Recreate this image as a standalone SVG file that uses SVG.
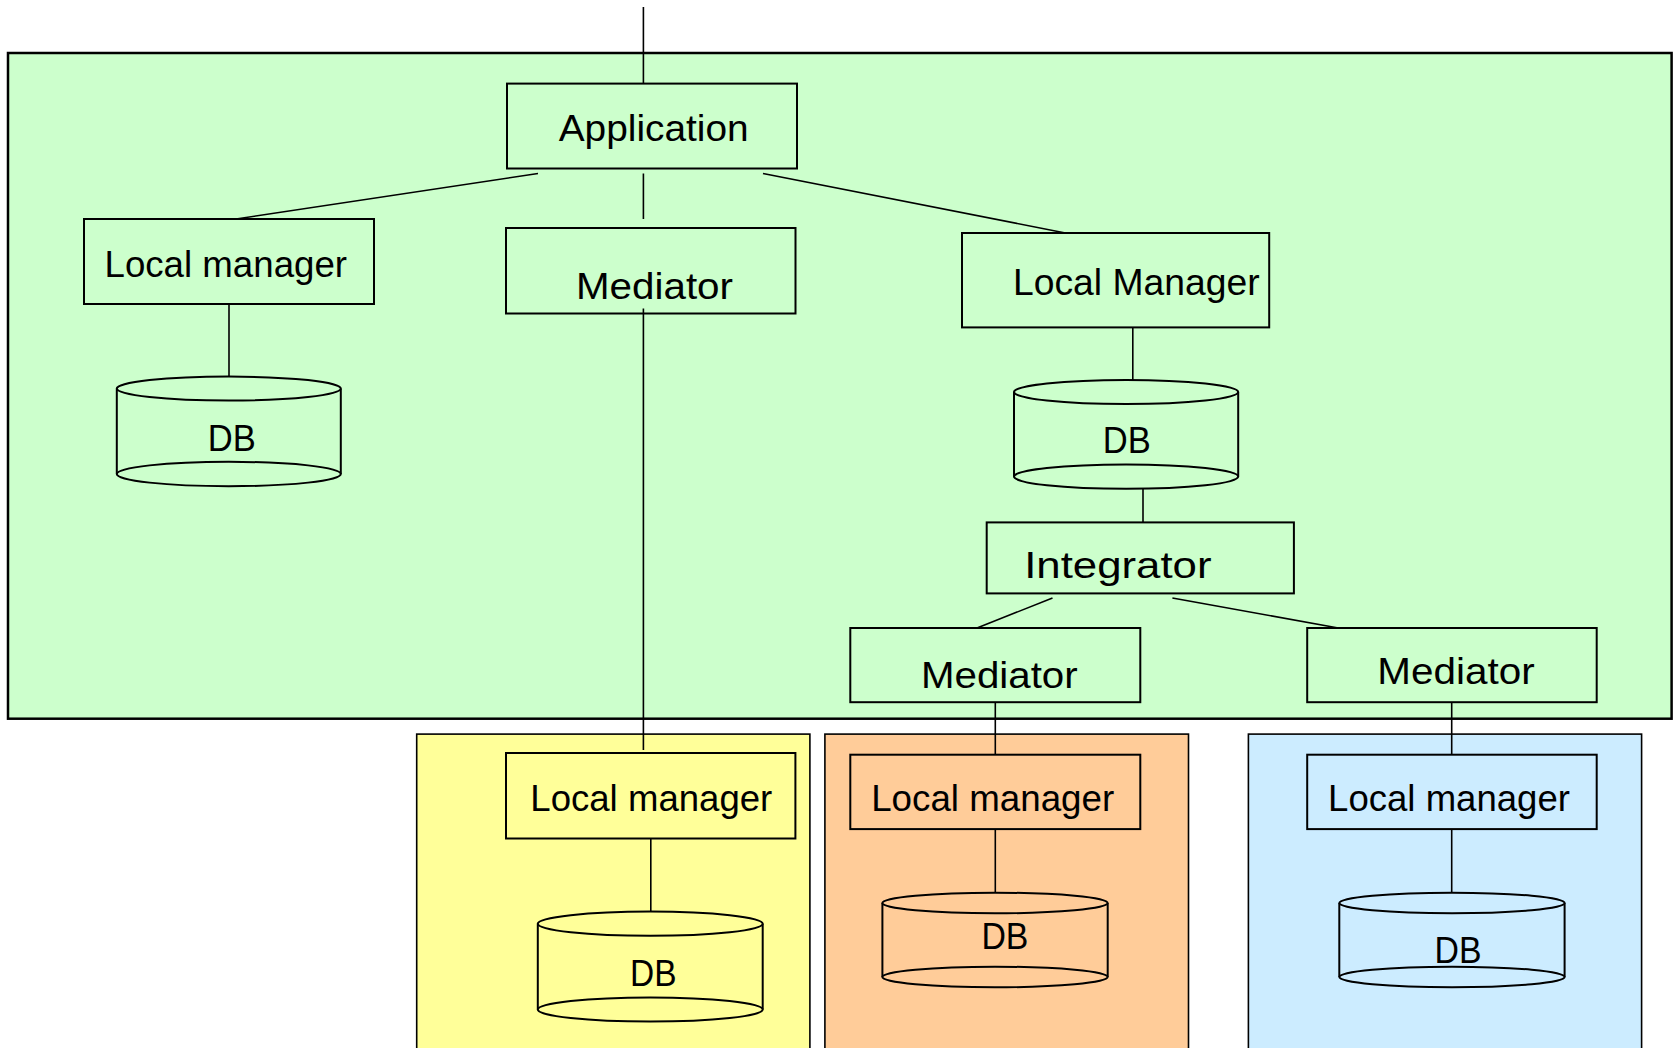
<svg xmlns="http://www.w3.org/2000/svg" width="1677" height="1048" viewBox="0 0 1677 1048">
<style>
.cont{stroke:#000;stroke-width:2.5}
.box{stroke:#000;stroke-width:2}
.cyl{stroke:#000;stroke-width:2}
.g{fill:#CCFFCC}.y{fill:#FFFF99}.o{fill:#FFCC99}.b{fill:#CCECFF}
.t{font-family:"Liberation Sans",Arial,sans-serif;font-size:37px;fill:#000}
.c line{stroke:#000;stroke-width:1.6}
</style>
<rect width="1677" height="1048" fill="#fff"/>
<g id="containers">
<rect class="cont g" x="8" y="53" width="1663.6" height="665.7"/>
<rect class="cont y" x="416.7" y="734.1" width="393.2" height="330" style="stroke-width:1.6"/>
<rect class="cont o" x="824.9" y="734.1" width="363.6" height="330" style="stroke-width:1.6"/>
<rect class="cont b" x="1248.4" y="734.1" width="393.2" height="330" style="stroke-width:1.6"/>
</g>
<g id="application"><rect class="box g" x="507" y="83.6" width="290" height="84.9"/><text class="t" x="558.7" y="141" textLength="190" lengthAdjust="spacingAndGlyphs">Application</text></g>
<g id="lm1"><rect class="box g" x="84" y="219" width="290" height="85"/><text class="t" x="104.5" y="277" textLength="242.5" lengthAdjust="spacingAndGlyphs">Local manager</text></g>
<g id="med1"><rect class="box g" x="506" y="228" width="289.5" height="85.5"/><text class="t" x="576" y="298.5" textLength="157" lengthAdjust="spacingAndGlyphs">Mediator</text></g>
<g id="lm2"><rect class="box g" x="962" y="233" width="307.2" height="94.4"/><text class="t" x="1013" y="295.2" textLength="246.6" lengthAdjust="spacingAndGlyphs">Local Manager</text></g>
<g id="db1"><rect class="g" x="116.8" y="388.6" width="224" height="85.4"/><line x1="116.8" y1="388.6" x2="116.8" y2="474" class="cyl"/><line x1="340.8" y1="388.6" x2="340.8" y2="474" class="cyl"/><ellipse class="cyl g" cx="228.8" cy="474" rx="112" ry="12.2"/><ellipse class="cyl g" cx="228.8" cy="388.6" rx="112" ry="12"/><text class="t" x="207.8" y="451" textLength="48" lengthAdjust="spacingAndGlyphs">DB</text></g>
<g id="db2"><rect class="g" x="1014" y="392" width="224.2" height="84.6"/><line x1="1014" y1="392" x2="1014" y2="476.6" class="cyl"/><line x1="1238.2" y1="392" x2="1238.2" y2="476.6" class="cyl"/><ellipse class="cyl g" cx="1126.1" cy="476.6" rx="112.1" ry="12.2"/><ellipse class="cyl g" cx="1126.1" cy="392" rx="112.1" ry="12.1"/><text class="t" x="1102.8" y="452.7" textLength="48" lengthAdjust="spacingAndGlyphs">DB</text></g>
<g id="integrator"><rect class="box g" x="986.7" y="522.4" width="307.2" height="71"/><text class="t" x="1024.2" y="578" textLength="187.3" lengthAdjust="spacingAndGlyphs">Integrator</text></g>
<g id="med2"><rect class="box g" x="850.3" y="628" width="290" height="74.2"/><text class="t" x="920.9" y="688.4" textLength="156.8" lengthAdjust="spacingAndGlyphs">Mediator</text></g>
<g id="med3"><rect class="box g" x="1307.2" y="628" width="289.5" height="74.2"/><text class="t" x="1377.3" y="684.3" textLength="157.3" lengthAdjust="spacingAndGlyphs">Mediator</text></g>
<g id="lm3"><rect class="box y" x="506" y="753" width="289.4" height="85.5"/><text class="t" x="530.3" y="811.2" textLength="242" lengthAdjust="spacingAndGlyphs">Local manager</text></g>
<g id="lm4"><rect class="box o" x="850.3" y="754.7" width="290" height="74.4"/><text class="t" x="871.2" y="811.2" textLength="243" lengthAdjust="spacingAndGlyphs">Local manager</text></g>
<g id="lm5"><rect class="box b" x="1307.2" y="754.7" width="289.5" height="74.4"/><text class="t" x="1328.1" y="811" textLength="241.8" lengthAdjust="spacingAndGlyphs">Local manager</text></g>
<g id="db3"><rect class="y" x="537.8" y="923.7" width="224.9" height="85.8"/><line x1="537.8" y1="923.7" x2="537.8" y2="1009.5" class="cyl"/><line x1="762.7" y1="923.7" x2="762.7" y2="1009.5" class="cyl"/><ellipse class="cyl y" cx="650.25" cy="1009.5" rx="112.45" ry="12.1"/><ellipse class="cyl y" cx="650.25" cy="923.7" rx="112.45" ry="12.1"/><text class="t" x="630" y="986.3" textLength="46.5" lengthAdjust="spacingAndGlyphs">DB</text></g>
<g id="db4"><rect class="o" x="882.4" y="903" width="225.3" height="74"/><line x1="882.4" y1="903" x2="882.4" y2="977" class="cyl"/><line x1="1107.7" y1="903" x2="1107.7" y2="977" class="cyl"/><ellipse class="cyl o" cx="995" cy="977" rx="112.65" ry="10.3"/><ellipse class="cyl o" cx="995" cy="903" rx="112.65" ry="10.3"/><text class="t" x="981.4" y="949.3" textLength="47" lengthAdjust="spacingAndGlyphs">DB</text></g>
<g id="db5"><rect class="b" x="1339.3" y="903" width="225.3" height="74"/><line x1="1339.3" y1="903" x2="1339.3" y2="977" class="cyl"/><line x1="1564.6" y1="903" x2="1564.6" y2="977" class="cyl"/><ellipse class="cyl b" cx="1452" cy="977" rx="112.65" ry="10.3"/><ellipse class="cyl b" cx="1452" cy="903" rx="112.65" ry="10.3"/><text class="t" x="1434.6" y="962.8" textLength="47" lengthAdjust="spacingAndGlyphs">DB</text></g>
<g id="connectors" class="c">
<line x1="643.4" y1="7" x2="643.4" y2="83.6"/>
<line x1="538" y1="173.5" x2="236" y2="219"/>
<line x1="643.4" y1="173.5" x2="643.4" y2="219"/>
<line x1="763" y1="173.5" x2="1065.4" y2="233"/>
<line x1="229" y1="304" x2="229" y2="376.6"/>
<line x1="643.4" y1="308.5" x2="643.4" y2="750"/>
<line x1="1132.8" y1="327.4" x2="1132.8" y2="380"/>
<line x1="1143" y1="488.8" x2="1143" y2="522.4"/>
<line x1="1052.5" y1="598" x2="977" y2="628"/>
<line x1="1172.4" y1="598" x2="1338.3" y2="628"/>
<line x1="995.3" y1="702.2" x2="995.3" y2="754.7"/>
<line x1="1451.7" y1="702.2" x2="1451.7" y2="754.7"/>
<line x1="650.8" y1="838.5" x2="650.8" y2="911.6"/>
<line x1="995.3" y1="829.1" x2="995.3" y2="892.7"/>
<line x1="1451.7" y1="829.1" x2="1451.7" y2="892.7"/>
</g>
</svg>
